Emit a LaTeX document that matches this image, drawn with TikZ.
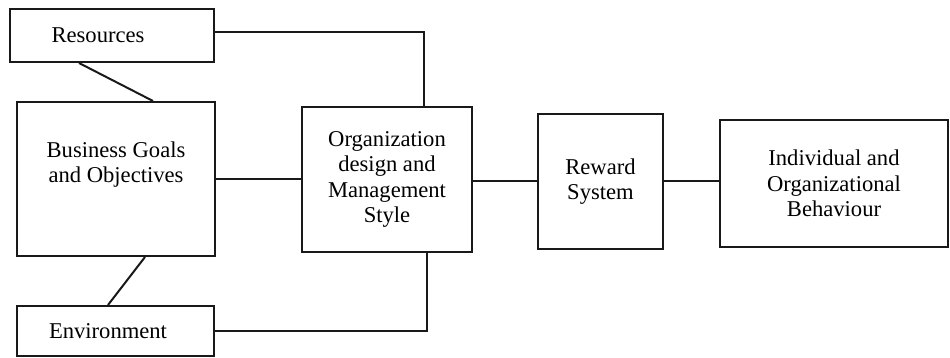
\documentclass[tikz,border=0pt]{standalone}
\usepackage{fontspec}
\setmainfont{Liberation Serif}

\begin{document}
\begin{tikzpicture}[x=1pt,y=-1pt,
  blk/.style={draw=\lineclr,line width=2pt,align=center,inner sep=0pt,
    font=\fontsize{22.6}{25.5}\selectfont},
  wire/.style={draw=\lineclr,line width=2pt}]
\newcommand{\lineclr}{black!90}
\useasboundingbox (0,0) rectangle (950,358);
\node[blk,minimum width=204pt,minimum height=53pt] (res) at (112,35.5) {\hspace*{-28pt}Resources};
\node[blk,minimum width=198pt,minimum height=154pt] (goals) at (116,179) {Business Goals\\and Objectives\\[8pt]};
\node[blk,minimum width=197pt,minimum height=50pt] (env) at (115.5,331) {\hspace*{-15pt}Environment};
\node[blk,minimum width=170pt,minimum height=145pt] (org) at (387,179.5) {Organization\\design and\\Management\\Style};
\node[blk,minimum width=125pt,minimum height=135pt] (rew) at (600.5,181.5) {Reward\\System};
\node[blk,minimum width=228pt,minimum height=127pt] (ind) at (834,183.5) {Individual and\\Organizational\\Behaviour};
\draw[wire] ([xshift=70pt]res.south west) -- ([xshift=137pt]goals.north west);
\draw[wire] ([xshift=129pt]goals.south west) -- ([xshift=92pt]env.north west);
\draw[wire] (goals.east) -- (goals.east -| org.west);
\draw[wire] (rew.west -| org.east) -- (rew.west);
\draw[wire] (rew.east) -- (rew.east -| ind.west);
\draw[wire] ([yshift=3pt]res.east) -| ([xshift=37pt]org.north);
%\draw[wire] (res.east) -| (org.north);
\draw[wire] (env.east) -| ([xshift=40pt]org.south);
\end{tikzpicture}
\end{document}
